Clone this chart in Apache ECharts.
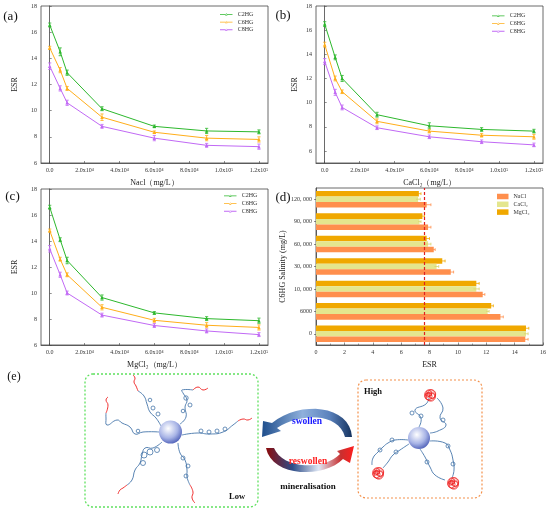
<!DOCTYPE html>
<html>
<head>
<meta charset="utf-8">
<script src="https://cdn.jsdelivr.net/npm/echarts@6/dist/echarts.min.js"></script>
<style>
  html, body { margin: 0; padding: 0; background: #fff; }
  #main { width: 550px; height: 513px; }
</style>
</head>
<body>
<div id="main"></div>
<script>
// salinity levels (mg/L) and tick labels of the line panels
const salinity = [0, 6000, 10000, 30000, 60000, 90000, 120000];
const xTicks = [0, 20000, 40000, 60000, 80000, 100000, 120000];
const xTickLabels = ["0.0", "2.0x10⁴", "4.0x10⁴", "6.0x10⁴", "8.0x10⁴", "1.0x10⁵", "1.2x10⁵"];
const yTicks = [6, 8, 10, 12, 14, 16, 18];
const gels = ["C2HG", "C6HG", "C8HG"];

// (a) NaCl
const naclC2 = [16.55, 14.5, 12.9, 10.15, 8.8, 8.45, 8.38];
const naclC6 = [14.8, 13.1, 11.7, 9.5, 8.35, 7.9, 7.8];
const naclC8 = [13.4, 11.7, 10.6, 8.8, 7.9, 7.35, 7.25];
const naclC2Err = [0.15, 0.3, 0.2, 0.15, 0.1, 0.2, 0.15];
const naclC6Err = [0.12, 0.2, 0.15, 0.25, 0.1, 0.2, 0.2];
const naclC8Err = [0.25, 0.2, 0.2, 0.15, 0.2, 0.15, 0.2];

// (b) CaCl2
const caclC2 = [16.5, 13.75, 12.0, 9.0, 8.08, 7.78, 7.64];
const caclC6 = [14.8, 12.0, 10.9, 8.45, 7.64, 7.3, 7.17];
const caclC8 = [13.4, 10.85, 9.6, 7.92, 7.17, 6.76, 6.5];
const caclC2Err = [0.2, 0.2, 0.25, 0.2, 0.25, 0.15, 0.15];
const caclC6Err = [0.2, 0.2, 0.15, 0.2, 0.15, 0.15, 0.2];
const caclC8Err = [0.25, 0.25, 0.2, 0.15, 0.15, 0.15, 0.15];

// (c) MgCl2
const mgclC2 = [16.6, 14.1, 12.5, 9.65, 8.47, 8.03, 7.87];
const mgclC6 = [14.8, 12.6, 11.4, 8.9, 7.9, 7.52, 7.35];
const mgclC8 = [13.4, 11.4, 10.0, 8.3, 7.5, 7.08, 6.8];
const mgclC2Err = [0.15, 0.15, 0.25, 0.2, 0.1, 0.15, 0.2];
const mgclC6Err = [0.12, 0.15, 0.15, 0.2, 0.15, 0.2, 0.2];
const mgclC8Err = [0.25, 0.2, 0.15, 0.15, 0.15, 0.15, 0.15];

// (d) C6HG at each salinity
const salinityCats = ["0", "6000", "10, 000", "30, 000", "60, 000", "90, 000", "120, 000"];
const saltNames = ["NaCl", "CaCl₂", "MgCl₂"];
const barNacl = [14.75, 13.0, 11.75, 9.5, 8.3, 7.9, 7.8];
const barCacl = [14.8, 12.1, 11.3, 8.5, 7.9, 7.3, 7.2];
const barMgcl = [14.8, 12.35, 11.3, 8.9, 7.8, 7.5, 7.25];
const barNaclErr = [0.2, 0.2, 0.15, 0.2, 0.1, 0.2, 0.3];
const barCaclErr = [0.15, 0.1, 0.2, 0.15, 0.2, 0.1, 0.15];
const barMgclErr = [0.2, 0.15, 0.2, 0.2, 0.2, 0.15, 0.15];
const esrRefLine = 7.6;

const serif = "'Liberation Serif', 'Times New Roman', serif";
const gelColors = ["#2db82d", "#ffae1a", "#c169f5"];
const saltColors = ["#ff8f4d", "#e4e68e", "#f0a800"];
const axisColor = "#444";
// legend glyph: thin line with a small marker (the two tiny dots fix the box height)
const lineIcon = "path://M0,0L0.01,0L0.01,0.01Z M0,8L0.01,8L0.01,7.99Z M0,3.6L13,3.6L13,4.4L0,4.4Z M5.3,5.3L7.7,5.3L6.5,2.7Z";

function lineXAxis(grid, name) {
  return {
    type: "value", gridIndex: grid, min: -5000, max: 125200,
    name: name, nameLocation: "middle", nameGap: 16,
    nameTextStyle: { fontSize: 8, fontFamily: serif, color: "#222" },
    axisLine: { show: true, lineStyle: { color: axisColor, width: 0.8 } },
    axisTick: { show: true, inside: true, length: 2, customValues: xTicks, lineStyle: { color: axisColor, width: 0.6 } },
    axisLabel: {
      customValues: xTicks, margin: 4, fontSize: 6, fontFamily: serif, color: "#333",
      formatter: v => xTickLabels[xTicks.indexOf(v)]
    },
    splitLine: { show: false }
  };
}

function lineYAxis(grid, min, gap) {
  return {
    type: "value", gridIndex: grid, min: min, max: 18,
    name: "ESR", nameLocation: "middle", nameRotate: 90, nameGap: gap,
    nameTextStyle: { fontSize: 8, fontFamily: serif, color: "#222" },
    axisLine: { show: true, lineStyle: { color: axisColor, width: 0.8 } },
    axisTick: { show: true, inside: true, length: 2, customValues: yTicks, lineStyle: { color: axisColor, width: 0.6 } },
    axisLabel: { customValues: yTicks, margin: 4, fontSize: 6, fontFamily: serif, color: "#333" },
    splitLine: { show: false }
  };
}

function lineSeries(grid, name, color, vals) {
  return {
    type: "line", name: name, xAxisIndex: grid, yAxisIndex: grid,
    data: salinity.map((x, i) => [x, vals[i]]),
    symbol: "triangle", symbolSize: 3.5,
    lineStyle: { color: color, width: 1 },
    itemStyle: { color: color },
    z: 3
  };
}

function errBar(grid, name, color, vals, errs) {
  return {
    type: "custom", name: name, xAxisIndex: grid, yAxisIndex: grid,
    data: salinity.map((x, i) => [x, vals[i], errs[i]]),
    encode: { x: 0, y: 1 },
    z: 4,
    renderItem: (params, api) => {
      const x = api.value(0), y = api.value(1), e = api.value(2);
      const lo = api.coord([x, y - e]), hi = api.coord([x, y + e]);
      const c = 1.6;
      const st = { stroke: color, lineWidth: 0.8 };
      return {
        type: "group",
        children: [
          { type: "line", shape: { x1: lo[0], y1: lo[1], x2: hi[0], y2: hi[1] }, style: st },
          { type: "line", shape: { x1: lo[0] - c, y1: lo[1], x2: lo[0] + c, y2: lo[1] }, style: st },
          { type: "line", shape: { x1: hi[0] - c, y1: hi[1], x2: hi[0] + c, y2: hi[1] }, style: st }
        ]
      };
    }
  };
}

const gapRatio = 0.26;
// slot 0 = top bar of each group
function barErr(name, color, vals, errs, slot) {
  return {
    type: "custom", name: name, xAxisIndex: 3, yAxisIndex: 3,
    data: vals.map((v, i) => [v, i, errs[i]]),
    encode: { x: 0, y: 1 },
    z: 4,
    renderItem: (params, api) => {
      const v = api.value(0), ci = api.value(1), e = api.value(2);
      const band = api.size([0, 1])[1];
      const bw = band * (1 - gapRatio) / 3;
      const base = api.coord([v, ci]);
      const cy = base[1] - band * (1 - gapRatio) / 2 + bw * (slot + 0.5);
      const xl = api.coord([v - e, ci])[0], xr = api.coord([v + e, ci])[0];
      const st = { stroke: color, lineWidth: 0.8 };
      return {
        type: "group",
        children: [
          { type: "line", shape: { x1: xl, y1: cy, x2: xr, y2: cy }, style: st },
          { type: "line", shape: { x1: xr, y1: cy - 1.4, x2: xr, y2: cy + 1.4 }, style: st }
        ]
      };
    }
  };
}

function lineLegend(left, top) {
  return {
    orient: "vertical", left: left, top: top, padding: 0,
    data: gels.map(g => ({ name: g, icon: lineIcon })),
    itemWidth: 13, itemHeight: 7.7, itemGap: 0, selectedMode: false,
    textStyle: { fontSize: 6, fontFamily: serif, color: "#333" }
  };
}

// ---------- schematic (e) ----------
const chainBlue = "#4676aa";
const chainRed = "#ee1c1c";
function chain(points, color) {
  return { type: "polyline", shape: { points: points, smooth: 0.5 }, style: { stroke: color, lineWidth: 0.9, fill: null }, silent: true };
}
function loop(x, y, r) {
  return { type: "circle", shape: { cx: x, cy: y, r: r }, style: { stroke: chainBlue, lineWidth: 0.8, fill: null }, silent: true };
}
function sphere(x, y, r) {
  return {
    type: "circle", shape: { cx: x, cy: y, r: r }, silent: true,
    style: {
      fill: new echarts.graphic.RadialGradient(0.4, 0.35, 0.75, [
        { offset: 0, color: "#ffffff" }, { offset: 0.55, color: "#a8b4e6" }, { offset: 1, color: "#3b4eae" }
      ])
    }
  };
}
function blob(x, y) {
  const rings = [[0, 0, 5.5], [1.5, -1, 4.2], [-1.5, 1.2, 3.6], [0.8, 1.6, 4.6], [-1.2, -1.6, 3], [2.2, 1, 2.6], [-2.3, 0, 2.2], [0, -0.5, 1.6]];
  return rings.map(r => ({
    type: "circle", shape: { cx: x + r[0], cy: y + r[1], r: r[2] }, silent: true,
    style: { stroke: chainRed, lineWidth: 0.7, fill: null }
  }));
}
function label(text, x, y, size, color, weight) {
  return {
    type: "text", silent: true,
    style: { text: text, x: x, y: y, fill: color, font: (weight || "normal") + " " + size + "px " + serif, textAlign: "center", textVerticalAlign: "middle" }
  };
}
// sample a cubic bezier so the arrow outlines can be drawn as polygons
function bez(p0, p1, p2, p3) {
  const pts = [];
  for (let k = 0; k <= 16; k++) {
    const t = k / 16, u = 1 - t;
    pts.push([
      u * u * u * p0[0] + 3 * u * u * t * p1[0] + 3 * u * t * t * p2[0] + t * t * t * p3[0],
      u * u * u * p0[1] + 3 * u * u * t * p1[1] + 3 * u * t * t * p2[1] + t * t * t * p3[1]
    ]);
  }
  return pts;
}
const swollenArrow = [
  ...bez([352, 437], [350, 405], [300, 400], [272, 423]),
  [263, 421], [262, 437], [281, 431],
  ...bez([277, 428], [300, 413], [338, 412], [345, 437])
];
const reswollenArrow = [
  ...bez([266, 448], [272, 478], [325, 478], [343, 459]),
  [350, 463], [354, 446], [337, 451],
  ...bez([340, 454], [325, 470], [283, 470], [274, 448])
];

const schematic = [
  { type: "rect", shape: { x: 85, y: 374, width: 173, height: 133, r: 8 }, style: { fill: null, stroke: "#5ee05e", lineWidth: 1.3, lineDash: [2, 2] }, silent: true },
  { type: "rect", shape: { x: 358, y: 380, width: 124, height: 118, r: 8 }, style: { fill: null, stroke: "#f3904a", lineWidth: 1.2, lineDash: [2, 2] }, silent: true },
  // low salinity: stretched arms
  chain([[161, 426], [156, 418], [150, 412], [147, 404], [144, 396], [138, 391]], chainBlue),
  chain([[138, 391], [136, 386], [134, 382], [135, 378], [133, 375]], chainRed),
  loop(153, 408, 2), loop(158, 414, 2), loop(150, 400, 1.8),
  chain([[180, 424], [186, 417], [185, 407], [187, 400], [183, 393], [182, 390], [193, 390]], chainBlue),
  chain([[193, 390], [198, 387], [203, 390], [208, 388]], chainRed),
  loop(190, 405, 2), loop(186, 398, 2.2), loop(183, 411, 1.8),
  chain([[182, 435], [197, 433], [210, 434], [223, 432], [233, 425], [238, 421]], chainBlue),
  chain([[238, 421], [243, 419], [248, 420], [252, 418]], chainRed),
  loop(201, 431, 2), loop(209, 432, 2), loop(217, 431, 2), loop(225, 429, 2),
  chain([[159, 432], [143, 432], [135, 434], [130, 427], [122, 423], [117, 420], [107, 425], [106, 418], [106, 413]], chainBlue),
  chain([[106, 413], [108, 405], [106, 400], [108, 397]], chainRed),
  loop(138, 431, 1.8),
  chain([[162, 442], [153, 448], [145, 448], [142, 455], [140, 463], [135, 470], [132, 480], [127, 485]], chainBlue),
  chain([[127, 485], [123, 488], [120, 490], [118, 494]], chainRed),
  loop(150, 452, 3), loop(144, 455, 3), loop(143, 463, 2.5), loop(157, 450, 2.5),
  chain([[178, 443], [180, 453], [185, 460], [187, 470], [187, 477], [190, 485]], chainBlue),
  chain([[190, 485], [193, 492], [192, 498], [195, 503]], chainRed),
  loop(183, 458, 2), loop(188, 466, 2), loop(186, 476, 2),
  sphere(170.5, 432, 11.5),
  label("Low", 237, 497, 8.5, "#111", "bold"),
  // high salinity: collapsed arms
  chain([[419, 427], [421, 418], [415, 410], [426, 404], [429, 398]], chainBlue),
  chain([[437, 398], [443, 408], [440, 418], [446, 425], [438, 431], [430, 433]], chainBlue),
  loop(421, 416, 2), loop(412, 413, 2), loop(443, 420, 2),
  chain([[408, 440], [395, 440], [388, 443], [383, 447], [378, 452], [373, 458], [372, 465]], chainBlue),
  chain([[409, 444], [400, 450], [393, 455], [388, 462], [383, 468]], chainBlue),
  loop(392, 440, 2), loop(380, 450, 2), loop(396, 452, 2),
  chain([[430, 441], [445, 443], [450, 450], [453, 460], [454, 470], [452, 478]], chainBlue),
  chain([[420, 449], [425, 457], [430, 467], [435, 475], [445, 480]], chainBlue),
  loop(448, 446, 2), loop(427, 462, 2), loop(453, 464, 2),
  ...blob(430, 395), ...blob(378, 473), ...blob(453, 483),
  sphere(419, 438, 11),
  label("High", 373, 392, 8.5, "#111", "bold"),
  // cycle arrows
  {
    type: "polygon", silent: true,
    shape: { points: swollenArrow },
    style: {
      fill: new echarts.graphic.LinearGradient(0, 0, 1, 0, [
        { offset: 0, color: "#1f4e8c" }, { offset: 0.45, color: "#8fb0dc" }, { offset: 0.75, color: "#5b82bd" }, { offset: 1, color: "#15335f" }
      ])
    }
  },
  {
    type: "polygon", silent: true,
    shape: { points: reswollenArrow },
    style: {
      fill: new echarts.graphic.LinearGradient(0, 0, 1, 0, [
        { offset: 0, color: "#8c0a0a" }, { offset: 0.3, color: "#2d4c88" }, { offset: 0.6, color: "#dfe7f4" }, { offset: 0.85, color: "#c83030" }, { offset: 1, color: "#ff1e1e" }
      ])
    }
  },
  label("swollen", 307, 422, 9.5, "#1a1aff", "bold"),
  label("reswollen", 308, 462, 9.5, "#ff2020", "bold"),
  label("mineralisation", 308, 487, 9, "#111", "bold")
];

const panelLabels = [
  label("(a)", 10.5, 17, 13, "#111"),
  label("(b)", 283, 16, 13, "#111"),
  label("(c)", 12.5, 197, 13, "#111"),
  label("(d)", 283, 198, 13, "#111"),
  label("(e)", 14, 377, 12, "#111")
];

const gridBox = { show: true, borderColor: axisColor, borderWidth: 0.8, backgroundColor: "transparent" };

const chart = echarts.init(document.getElementById("main"), null, { renderer: "canvas" });
chart.setOption({
  animation: false,
  backgroundColor: "#fff",
  grid: [
    Object.assign({ left: 41, top: 6, width: 227, height: 157 }, gridBox),
    Object.assign({ left: 316, top: 6, width: 227, height: 157 }, gridBox),
    Object.assign({ left: 41, top: 189, width: 227, height: 156 }, gridBox),
    Object.assign({ left: 316, top: 188, width: 227, height: 157 }, gridBox)
  ],
  legend: [
    lineLegend(220, 10.5),
    lineLegend(492, 12),
    lineLegend(224, 192),
    {
      orient: "vertical", left: 497, top: 193.5, padding: 0, data: saltNames, icon: "rect",
      itemWidth: 11.5, itemHeight: 5.5, itemGap: 1.8, selectedMode: false,
      textStyle: { fontSize: 6, fontFamily: serif, color: "#333" }
    }
  ],
  xAxis: [
    lineXAxis(0, "Nacl（mg/L）"),
    lineXAxis(1, "CaCl₂（mg/L）"),
    lineXAxis(2, "MgCl₂（mg/L）"),
    {
      type: "value", gridIndex: 3, min: 0, max: 16, interval: 2,
      name: "ESR", nameLocation: "middle", nameGap: 16,
      nameTextStyle: { fontSize: 8, fontFamily: serif, color: "#222" },
      axisLine: { show: true, lineStyle: { color: axisColor, width: 0.8 } },
      axisTick: { show: true, inside: true, length: 2.5, lineStyle: { color: axisColor, width: 0.6 } },
      minorTick: { show: true, splitNumber: 2, length: 1.5, lineStyle: { color: axisColor, width: 0.5 } },
      axisLabel: { margin: 4, fontSize: 6, fontFamily: serif, color: "#333" },
      splitLine: { show: false }
    }
  ],
  yAxis: [
    lineYAxis(0, 6, 22),
    lineYAxis(1, 5, 17),
    lineYAxis(2, 6, 22),
    {
      type: "category", gridIndex: 3, data: salinityCats,
      name: "C6HG Salinity (mg/L)", nameLocation: "middle", nameRotate: 90, nameGap: 25,
      nameTextStyle: { fontSize: 8, fontFamily: serif, color: "#222" },
      axisLine: { show: true, lineStyle: { color: axisColor, width: 0.8 } },
      axisTick: { show: true, inside: false, length: 2, alignWithLabel: true, lineStyle: { color: axisColor, width: 0.6 } },
      axisLabel: { margin: 4, fontSize: 6, fontFamily: serif, color: "#333" },
      splitLine: { show: false }
    }
  ],
  series: [
    lineSeries(0, gels[0], gelColors[0], naclC2),
    lineSeries(0, gels[1], gelColors[1], naclC6),
    lineSeries(0, gels[2], gelColors[2], naclC8),
    lineSeries(1, gels[0], gelColors[0], caclC2),
    lineSeries(1, gels[1], gelColors[1], caclC6),
    lineSeries(1, gels[2], gelColors[2], caclC8),
    lineSeries(2, gels[0], gelColors[0], mgclC2),
    lineSeries(2, gels[1], gelColors[1], mgclC6),
    lineSeries(2, gels[2], gelColors[2], mgclC8),
    errBar(0, gels[0], gelColors[0], naclC2, naclC2Err),
    errBar(0, gels[1], gelColors[1], naclC6, naclC6Err),
    errBar(0, gels[2], gelColors[2], naclC8, naclC8Err),
    errBar(1, gels[0], gelColors[0], caclC2, caclC2Err),
    errBar(1, gels[1], gelColors[1], caclC6, caclC6Err),
    errBar(1, gels[2], gelColors[2], caclC8, caclC8Err),
    errBar(2, gels[0], gelColors[0], mgclC2, mgclC2Err),
    errBar(2, gels[1], gelColors[1], mgclC6, mgclC6Err),
    errBar(2, gels[2], gelColors[2], mgclC8, mgclC8Err),
    // bars listed top-to-bottom within each group
    {
      type: "bar", name: saltNames[2], xAxisIndex: 3, yAxisIndex: 3, data: barMgcl,
      itemStyle: { color: saltColors[2] }, barGap: "0%", barCategoryGap: (gapRatio * 100) + "%",
      markLine: {
        silent: true, symbol: "none", label: { show: false },
        lineStyle: { color: "#e02020", type: [3, 2], width: 1.2 },
        data: [{ xAxis: esrRefLine }]
      }
    },
    { type: "bar", name: saltNames[1], xAxisIndex: 3, yAxisIndex: 3, data: barCacl, itemStyle: { color: saltColors[1] } },
    { type: "bar", name: saltNames[0], xAxisIndex: 3, yAxisIndex: 3, data: barNacl, itemStyle: { color: saltColors[0] } },
    barErr(saltNames[2], saltColors[2], barMgcl, barMgclErr, 0),
    barErr(saltNames[1], "#d9d36a", barCacl, barCaclErr, 1),
    barErr(saltNames[0], saltColors[0], barNacl, barNaclErr, 2)
  ],
  graphic: [...schematic, ...panelLabels]
});
</script>
</body>
</html>
